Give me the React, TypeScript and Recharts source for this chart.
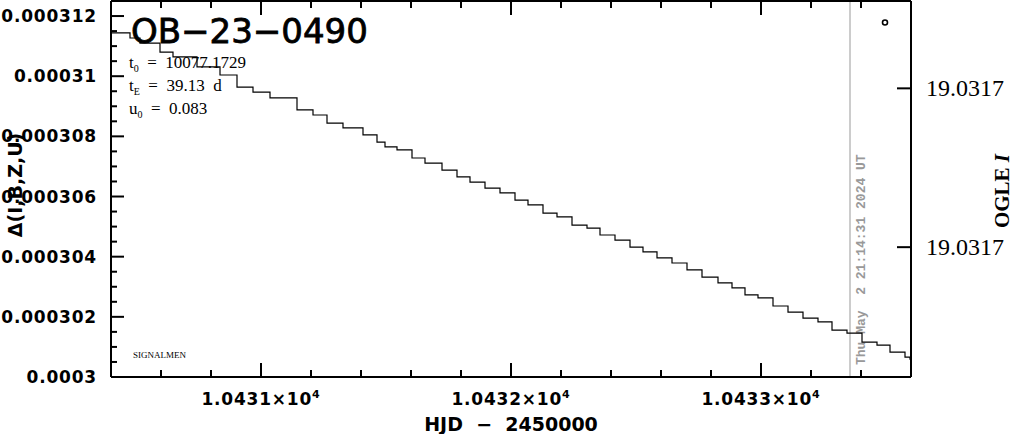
import React from 'react';
import { ComposedChart, Line, Scatter, XAxis, YAxis, ReferenceLine } from 'recharts';

// Light curve model (step line) — HJD-2450000 and Δ flux
const hjd = [
  10430.40, 10430.476, 10430.516, 10430.596, 10430.648, 10430.744, 10430.836, 10430.904,
  10430.968, 10431.036, 10431.144, 10431.208, 10431.264, 10431.328, 10431.408, 10431.464,
  10431.496, 10431.544, 10431.604, 10431.656, 10431.724, 10431.784, 10431.836, 10431.896,
  10431.956, 10432.016, 10432.068, 10432.128, 10432.184, 10432.244, 10432.304, 10432.356,
  10432.416, 10432.476, 10432.528, 10432.584, 10432.644, 10432.704, 10432.764, 10432.828,
  10432.884, 10432.936, 10432.988, 10433.048, 10433.108, 10433.168, 10433.228, 10433.284,
  10433.344, 10433.404, 10433.464, 10433.516, 10433.576, 10433.596,
];
const delta = [
  0.00031144, 0.00031127, 0.00031110, 0.00031080, 0.00031064, 0.00031031, 0.00031004, 0.00030964,
  0.00030947, 0.00030928, 0.00030888, 0.00030871, 0.00030844, 0.00030828, 0.00030805, 0.00030781,
  0.00030765, 0.00030755, 0.00030728, 0.00030711, 0.00030688, 0.00030665, 0.00030648, 0.00030628,
  0.00030612, 0.00030588, 0.00030572, 0.00030545, 0.00030532, 0.00030505, 0.00030495, 0.00030472,
  0.00030455, 0.00030432, 0.00030416, 0.00030396, 0.00030379, 0.00030356, 0.00030332, 0.00030313,
  0.00030296, 0.00030273, 0.00030263, 0.00030236, 0.00030216, 0.00030196, 0.00030183, 0.00030156,
  0.00030146, 0.00030116, 0.00030106, 0.00030083, 0.00030066, 0.00030057,
];

// OGLE I data point
const ogleHjd = [10433.496];
const ogleMag = [19.0316634];

// Axes
const xDomain = [10430.4, 10433.6];
const xMajorTicks = [10431, 10432, 10433];
const xMajorLabels = ['1.0431\u00d710', '1.0432\u00d710', '1.0433\u00d710'];
const xExponent = '4';
const xMinorTicks = [10430.6, 10430.8, 10431.2, 10431.4, 10431.6, 10431.8, 10432.2, 10432.4, 10432.6, 10432.8, 10433.2, 10433.4];

const yDomain = [0.0003, 0.0003125];
const yMajorTicks = [0.0003, 0.000302, 0.000304, 0.000306, 0.000308, 0.00031, 0.000312];
const yMajorLabels = ['0.0003', '0.000302', '0.000304', '0.000306', '0.000308', '0.00031', '0.000312'];
const yMinorOffsets = [0.0000005, 0.000001, 0.0000015];

const rightDomain = [19.031658, 19.0317527];
const rightTicks = [19.03168, 19.03172];
const rightLabels = ['19.0317', '19.0317'];

const markerHjd = 10433.356;
const markerText = 'Thu May  2 21:14:31 2024 UT';

const title = 'OB\u221223\u22120490';
const params = [
  { sym: 't', sub: '0', val: '  =  10077.1729' },
  { sym: 't', sub: 'E', val: '  =  39.13  d' },
  { sym: 'u', sub: '0', val: '  =  0.083' },
];

const lineData = hjd.map((t, i) => ({ t, v: delta[i] }));
const ogleData = ogleHjd.map((t, i) => ({ t, m: ogleMag[i] }));
const yAllTicks = [
  ...yMajorTicks,
  ...yMajorTicks.slice(0, -1).flatMap((m) => yMinorOffsets.map((o) => m + o)),
  yMajorTicks[yMajorTicks.length - 1] + yMinorOffsets[0],
].sort((a, b) => a - b);
const xAllTicks = [...xMajorTicks, ...xMinorTicks].sort((a, b) => a - b);

const tickFont = '"DejaVu Sans", sans-serif';

const LeftTick = (props: any) => {
  const { x, y, payload } = props;
  const idx = yMajorTicks.findIndex((m) => Math.abs(m - payload.value) < 1e-11);
  const ax = x + 14;
  return (
    <g>
      <line x1={ax} x2={ax + (idx >= 0 ? 13 : 6)} y1={y} y2={y} stroke="#000" strokeWidth={2} />
      {idx >= 0 && (
        <text x={x} y={y} textAnchor="end" dominantBaseline="central" fontFamily={tickFont} fontWeight="bold" fontSize={17} letterSpacing={0.8} fill="#000">
          {yMajorLabels[idx]}
        </text>
      )}
    </g>
  );
};

const BottomTick = (props: any) => {
  const { x, y, payload } = props;
  const idx = xMajorTicks.findIndex((m) => Math.abs(m - payload.value) < 1e-6);
  return (
    <g>
      <line x1={x} x2={x} y1={y} y2={y - (idx >= 0 ? 14 : 7)} stroke="#000" strokeWidth={2} />
      {idx >= 0 && (
        <text x={x} y={y + 28} textAnchor="middle" fontFamily={tickFont} fontWeight="bold" fontSize={17} letterSpacing={0.8} fill="#000">
          <tspan>{xMajorLabels[idx]}</tspan>
          <tspan dy={-7} fontSize={11}>{xExponent}</tspan>
        </text>
      )}
    </g>
  );
};

const TopTick = (props: any) => {
  const { x, y, payload } = props;
  const idx = xMajorTicks.findIndex((m) => Math.abs(m - payload.value) < 1e-6);
  return <line x1={x} x2={x} y1={y} y2={y + (idx >= 0 ? 14 : 7)} stroke="#000" strokeWidth={2} />;
};

const RightTick = (props: any) => {
  const { x, y, index } = props;
  const ax = x - 15;
  return (
    <g>
      <line x1={ax} x2={ax - 14} y1={y} y2={y} stroke="#000" strokeWidth={2} />
      <text x={x} y={y} textAnchor="start" dominantBaseline="central" fontFamily='"Liberation Serif", serif' fontSize={24} fill="#000">
        {rightLabels[index]}
      </text>
    </g>
  );
};

const MarkerLabel = (props: any) => {
  const { viewBox } = props;
  const cx = viewBox.x + 11;
  const cy = viewBox.y + viewBox.height - 12;
  return (
    <text
      x={cx}
      y={cy}
      transform={`rotate(-90 ${cx} ${cy})`}
      dominantBaseline="central"
      textAnchor="start"
      fontFamily='"Liberation Mono", monospace'
      fontWeight="bold"
      fontSize={13}
      fill="#999"
      style={{ whiteSpace: 'pre' }}
    >
      {markerText}
    </text>
  );
};

const OglePoint = (props: any) => {
  const { cx, cy } = props;
  return <circle cx={cx} cy={cy} r={2.5} fill="#fff" stroke="#000" strokeWidth={1.6} />;
};

export default function App() {
  return (
    <div style={{ position: 'absolute', left: 0, top: 0, width: 1014, height: 434, background: '#fff' }}>
      <ComposedChart width={1014} height={434} data={lineData} margin={{ top: 0, right: 0, bottom: 0, left: 0 }}>
        <XAxis
          xAxisId="bottom"
          dataKey="t"
          type="number"
          domain={xDomain}
          allowDataOverflow
          ticks={xAllTicks}
          interval={0}
          height={57}
          tickSize={0}
          tickMargin={0}
          tick={<BottomTick />}
          tickLine={false}
          axisLine={{ stroke: '#000', strokeWidth: 2 }}
        />
        <XAxis
          xAxisId="top"
          orientation="top"
          dataKey="t"
          type="number"
          domain={xDomain}
          allowDataOverflow
          ticks={xAllTicks}
          interval={0}
          height={1}
          tickSize={0}
          tickMargin={0}
          tick={<TopTick />}
          tickLine={false}
          axisLine={{ stroke: '#000', strokeWidth: 2 }}
        />
        <YAxis
          yAxisId="left"
          type="number"
          domain={yDomain}
          allowDataOverflow
          ticks={yAllTicks}
          interval={0}
          width={111}
          tickSize={0}
          tickMargin={14}
          tick={<LeftTick />}
          tickLine={false}
          axisLine={{ stroke: '#000', strokeWidth: 2 }}
        />
        <YAxis
          yAxisId="right"
          orientation="right"
          type="number"
          domain={rightDomain}
          reversed
          allowDataOverflow
          ticks={rightTicks}
          interval={0}
          width={103}
          tickSize={0}
          tickMargin={15}
          tick={<RightTick />}
          tickLine={false}
          axisLine={{ stroke: '#000', strokeWidth: 2 }}
        />
        <ReferenceLine
          xAxisId="bottom"
          yAxisId="left"
          x={markerHjd}
          stroke="#999"
          strokeWidth={1}
          label={<MarkerLabel />}
        />
        <Line
          xAxisId="bottom"
          yAxisId="left"
          dataKey="v"
          type="stepAfter"
          stroke="#000"
          strokeWidth={1.2}
          dot={false}
          isAnimationActive={false}
        />
        <Scatter
          xAxisId="bottom"
          yAxisId="right"
          data={ogleData}
          dataKey="m"
          shape={<OglePoint />}
          isAnimationActive={false}
        />
      </ComposedChart>
      <svg width={1014} height={434} style={{ position: 'absolute', left: 0, top: 0, pointerEvents: 'none' }}>
        <text x={131} y={43} fontFamily='"DejaVu Sans", sans-serif' fontSize={34} stroke="#000" strokeWidth={0.8} fill="#000">
          {title}
        </text>
        {params.map((p, i) => (
          <text key={i} x={129} y={68 + i * 23} fontFamily='"Liberation Serif", serif' fontSize={17} fill="#000" style={{ whiteSpace: 'pre' }}>
            <tspan>{p.sym}</tspan>
            <tspan dy={4} fontSize={10}>{p.sub}</tspan>
            <tspan dy={-4}>{p.val}</tspan>
          </text>
        ))}
        <text x={133} y={358} fontFamily='"Liberation Serif", serif' fontSize={9} fill="#000">
          SIGNALMEN
        </text>
        <text x={511} y={431} textAnchor="middle" fontFamily='"DejaVu Sans", sans-serif' fontWeight="bold" fontSize={19} fill="#000" style={{ whiteSpace: 'pre' }}>
          {'HJD  \u2212  2450000'}
        </text>
        <text x={15} y={185} transform="rotate(-90 15 185)" textAnchor="middle" dominantBaseline="central" fontFamily='"DejaVu Sans", sans-serif' fontWeight="bold" fontSize={19} fill="#000">
          {'\u0394(I,B,Z,U)'}
        </text>
        <text x={1002} y={191} transform="rotate(-90 1002 191)" textAnchor="middle" dominantBaseline="central" fontFamily='"Liberation Serif", serif' fontWeight="bold" fontSize={21} fill="#000" style={{ whiteSpace: 'pre' }}>
          <tspan>{'OGLE '}</tspan>
          <tspan fontStyle="italic">I</tspan>
        </text>
      </svg>
    </div>
  );
}
